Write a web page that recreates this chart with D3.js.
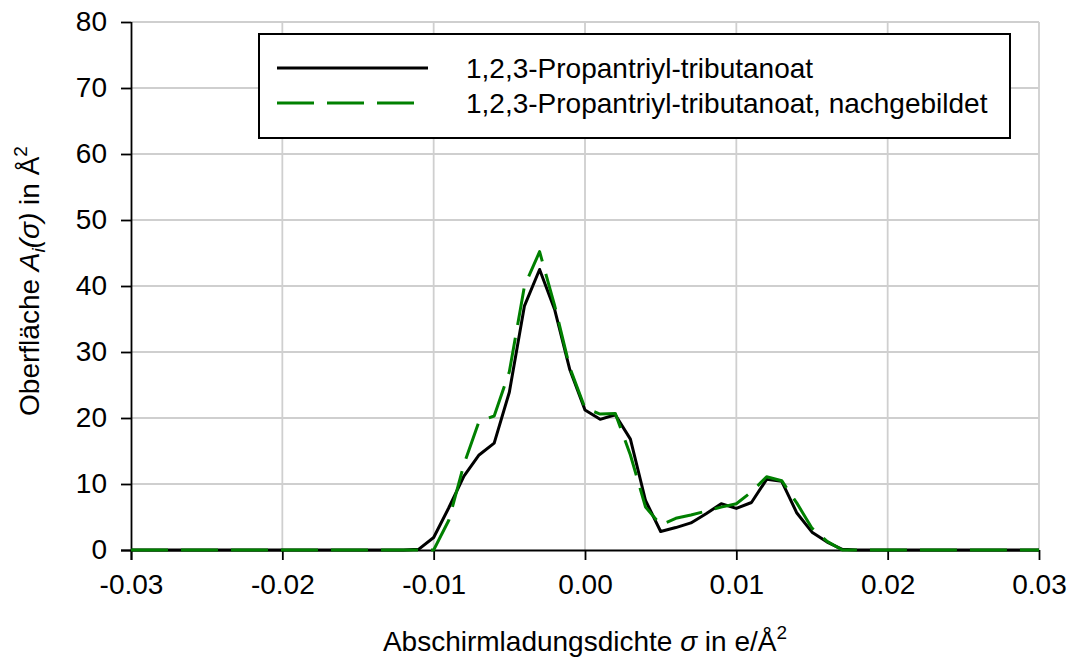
<!DOCTYPE html>
<html>
<head>
<meta charset="utf-8">
<script src="https://cdn.jsdelivr.net/npm/d3@7"></script>
<style>
  html, body { margin: 0; padding: 0; background: #fff; }
  svg { display: block; font-family: "Liberation Sans", Arial, sans-serif; }
</style>
</head>
<body>
<svg id="chart" width="1067" height="660"></svg>
<script>
// Screening charge density grid: -0.030 … 0.030 e/Å², step 0.001
const sigma = d3.range(-30, 31).map(k => k / 1000);

// σ-profile, 1,2,3-Propantriyl-tributanoat (Å²)
const profileOriginal = [
  0, 0, 0, 0, 0, 0, 0, 0, 0, 0,            // -0.030 … -0.021
  0, 0, 0, 0, 0, 0, 0, 0, 0,               // -0.020 … -0.012
  0.1, 1.9, 6.4, 11.2, 14.4, 16.2, 23.9, 37.0, 42.5, 36.4, 27.3, // -0.011 … -0.001
  21.2, 19.8, 20.5, 16.8, 7.5, 2.8, 3.4, 4.1, 5.5, 7.0,          // 0.000 … 0.009
  6.3, 7.2, 10.7, 10.4, 5.6, 2.7, 1.2, 0.1,                       // 0.010 … 0.017
  0, 0, 0, 0, 0, 0, 0, 0, 0, 0, 0, 0, 0                           // 0.018 … 0.030
];

// σ-profile, reconstructed variant (Å²)
const profileRebuilt = [
  0, 0, 0, 0, 0, 0, 0, 0, 0, 0,            // -0.030 … -0.021
  0, 0, 0, 0, 0, 0, 0, 0, 0, 0,            // -0.020 … -0.011
  0, 4.5, 13.0, 19.5, 20.3, 27.0, 40.0, 45.2, 37.0, 27.6,        // -0.010 … -0.001
  21.5, 20.6, 20.7, 14.4, 6.5, 3.8, 4.8, 5.3, 5.9, 6.5,          // 0.000 … 0.009
  7.0, 8.8, 11.1, 10.5, 7.1, 3.3, 1.3, 0,                         // 0.010 … 0.017
  0, 0, 0, 0, 0, 0, 0, 0, 0, 0, 0, 0, 0                           // 0.018 … 0.030
];

const xTicks = [-0.03, -0.02, -0.01, 0.00, 0.01, 0.02, 0.03];
const yTicks = [0, 10, 20, 30, 40, 50, 60, 70, 80];
const seriesNames = ["1,2,3-Propantriyl-tributanoat", "1,2,3-Propantriyl-tributanoat, nachgebildet"];

const W = 1067, H = 660;
const margin = { top: 22, right: 28, bottom: 110, left: 131 };
const innerW = W - margin.left - margin.right;
const innerH = H - margin.top - margin.bottom;
const FONT = 28;

const svg = d3.select("#chart");
const g = svg.append("g").attr("transform", `translate(${margin.left},${margin.top})`);

const x = d3.scaleLinear().domain([-0.03, 0.03]).range([0, innerW]);
const y = d3.scaleLinear().domain([0, 80]).range([innerH, 0]);

// grid
g.append("g").selectAll("line").data(xTicks.filter(t => t > -0.03)).join("line")
  .attr("x1", d => x(d)).attr("x2", d => x(d)).attr("y1", 0).attr("y2", innerH)
  .attr("stroke", "#cfcfcf").attr("stroke-width", 1.8);
g.append("g").selectAll("line").data(yTicks.filter(t => t > 0)).join("line")
  .attr("y1", d => y(d)).attr("y2", d => y(d)).attr("x1", 0).attr("x2", innerW)
  .attr("stroke", "#cfcfcf").attr("stroke-width", 1.8);

// axes
const xAxis = d3.axisBottom(x).tickValues(xTicks).tickSize(10).tickPadding(14)
  .tickFormat(d3.format(".2f"));
const yAxis = d3.axisLeft(y).tickValues(yTicks).tickSize(10).tickPadding(14);

const gx = g.append("g").attr("transform", `translate(0,${innerH})`).call(xAxis);
const gy = g.append("g").call(yAxis);
[gx, gy].forEach(a => {
  a.select(".domain").attr("stroke", "#000").attr("stroke-width", 1.8);
  a.selectAll(".tick line").attr("stroke", "#000").attr("stroke-width", 1.8);
  a.selectAll(".tick text").attr("fill", "#000")
    .style("font-family", "'Liberation Sans', Arial, sans-serif").style("font-size", FONT + "px");
});
gx.select(".domain").attr("d", `M${-10},0.5H${innerW}`);
gx.selectAll(".tick text").text(d => d3.format(".2f")(d).replace("−", "-"));
gy.select(".domain").attr("d", `M0.5,${innerH + 10}V0`);

// lines
const line = d3.line().x((d, i) => x(sigma[i])).y(d => y(d));
g.append("path").datum(profileOriginal).attr("d", line)
  .attr("fill", "none").attr("stroke", "#000").attr("stroke-width", 3)
  .attr("stroke-linejoin", "round");
g.append("path").datum(profileRebuilt).attr("d", line)
  .attr("fill", "none").attr("stroke", "#008000").attr("stroke-width", 3)
  .attr("stroke-dasharray", "37,13").attr("stroke-linejoin", "round");

// legend
const lg = svg.append("g");
lg.append("rect").attr("x", 259).attr("y", 34).attr("width", 751).attr("height", 104)
  .attr("fill", "#fff").attr("stroke", "#000").attr("stroke-width", 2);
const legendItems = [
  { name: seriesNames[0], color: "#000", dash: null, y: 68, x2: 428 },
  { name: seriesNames[1], color: "#008000", dash: "37,13", y: 103, x2: 414 }
];
legendItems.forEach(it => {
  lg.append("line").attr("x1", 277).attr("x2", it.x2).attr("y1", it.y).attr("y2", it.y)
    .attr("stroke", it.color).attr("stroke-width", 3)
    .attr("stroke-dasharray", it.dash);
  lg.append("text").attr("x", 466).attr("y", it.y + 10)
    .style("font-size", FONT + "px").attr("fill", "#000").text(it.name);
});

// x-axis title
const xt = svg.append("text").attr("x", margin.left + x(0)).attr("y", 651)
  .attr("text-anchor", "middle").style("font-size", FONT + "px");
xt.append("tspan").text("Abschirmladungsdichte ");
xt.append("tspan").style("font-style", "italic").text("σ");
xt.append("tspan").text(" in e/Å");
xt.append("tspan").attr("dy", -12).style("font-size", "19px").text("2");

// y-axis title
const yt = svg.append("text")
  .attr("transform", `translate(39,${281}) rotate(-90)`)
  .attr("text-anchor", "middle").style("font-size", FONT + "px");
yt.append("tspan").text("Oberfläche ");
yt.append("tspan").style("font-style", "italic").text("A");
yt.append("tspan").style("font-style", "italic").style("font-size", "19px").attr("dy", 6).text("i");
yt.append("tspan").style("font-style", "italic").attr("dy", -6).text("(σ)");
yt.append("tspan").text(" in Å");
yt.append("tspan").attr("dy", -12).style("font-size", "19px").text("2");
</script>
</body>
</html>
